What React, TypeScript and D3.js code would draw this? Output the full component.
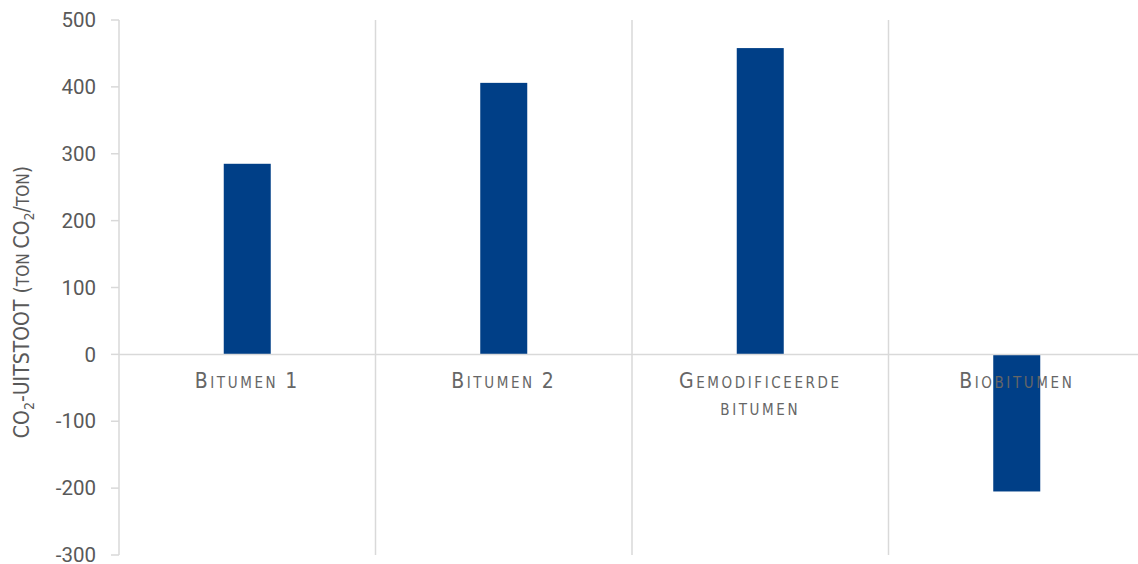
import React from "react";
import * as d3 from "d3";

const categories = ["Bitumen 1", "Bitumen 2", "Gemodificeerde bitumen", "Biobitumen"];
const labelLines = [["Bitumen 1"], ["Bitumen 2"], ["Gemodificeerde", "bitumen"], ["Biobitumen"]];
const values = [285, 406, 458, -205];
const yTicks = [500, 400, 300, 200, 100, 0, -100, -200, -300];

const W = 1138, H = 564;
const left = 119, top = 20, bottom = 555;
const narrow = "'Liberation Sans Narrow','DejaVu Sans Condensed',Roboto,sans-serif";

function SmallCaps({ text, x, y, first }: { text: string; x: number; y: number; first: boolean }) {
  const words = text.split(" ");
  return (
    <text x={x} y={y} textAnchor="middle" fill="#666666" fontFamily={narrow} letterSpacing={2.6}>
      {words.map((w, i) => {
        const up = w.toUpperCase();
        const isNum = /^[0-9]+$/.test(w);
        const bigFirst = first && i === 0;
        return (
          <React.Fragment key={i}>
            {i > 0 ? <tspan fontSize={15}>{" "}</tspan> : null}
            {bigFirst || isNum ? (
              <>
                <tspan fontSize={21}>{up[0]}</tspan>
                <tspan fontSize={15}>{up.slice(1)}</tspan>
              </>
            ) : (
              <tspan fontSize={15}>{up}</tspan>
            )}
          </React.Fragment>
        );
      })}
    </text>
  );
}

export default function App() {
  const x = d3.scaleBand<string>().domain(categories).range([left, left + 256.5 * 4]).paddingInner(0).paddingOuter(0);
  const y = d3.scaleLinear().domain([-300, 500]).range([bottom, top]);
  const bw = 47;
  const grid = "#d9d9d9";
  return (
    <svg width={W} height={H} style={{ position: "absolute", left: 0, top: 0 }}>
      <rect width={W} height={H} fill="#fff" />
      {categories.slice(1).map((c) => (
        <line key={c} x1={x(c)!} x2={x(c)!} y1={top} y2={bottom} stroke={grid} strokeWidth={1.5} />
      ))}
      <line x1={left} x2={left} y1={top} y2={bottom} stroke={grid} strokeWidth={1.5} />
      {yTicks.map((t) => (
        <g key={t}>
          <line x1={left - 8} x2={left} y1={y(t)} y2={y(t)} stroke={grid} strokeWidth={1.5} />
          <text x={96} y={y(t)} dy="0.35em" textAnchor="end" fontSize={20.5} fill="#595959" fontFamily="Roboto, 'Liberation Sans', sans-serif">
            {t}
          </text>
        </g>
      ))}
      {categories.map((c, i) => {
        const cx = x(c)! + x.bandwidth() / 2;
        const v = values[i];
        return <rect key={c} x={cx - bw / 2} width={bw} y={y(Math.max(0, v))} height={Math.abs(y(v) - y(0))} fill="#003f87" />;
      })}
      <line x1={left} x2={W} y1={y(0)} y2={y(0)} stroke={grid} strokeWidth={1.5} />
      {categories.map((c, i) => {
        const cx = x(c)! + x.bandwidth() / 2;
        return labelLines[i].map((ln, j) => (
          <SmallCaps key={c + j} text={ln} x={cx} y={388 + j * 27} first={j === 0} />
        ));
      })}
      <text transform={`translate(29, 302) rotate(-90)`} textAnchor="middle" fill="#595959" fontFamily={narrow} fontSize={21}>
        <tspan>CO</tspan>
        <tspan fontSize={14} dy={5}>2</tspan>
        <tspan dy={-5}>-UITSTOOT (</tspan>
        <tspan fontSize={17}>TON </tspan>
        <tspan>CO</tspan>
        <tspan fontSize={14} dy={5}>2</tspan>
        <tspan dy={-5}>/</tspan>
        <tspan fontSize={17}>TON</tspan>
        <tspan>)</tspan>
      </text>
    </svg>
  );
}
